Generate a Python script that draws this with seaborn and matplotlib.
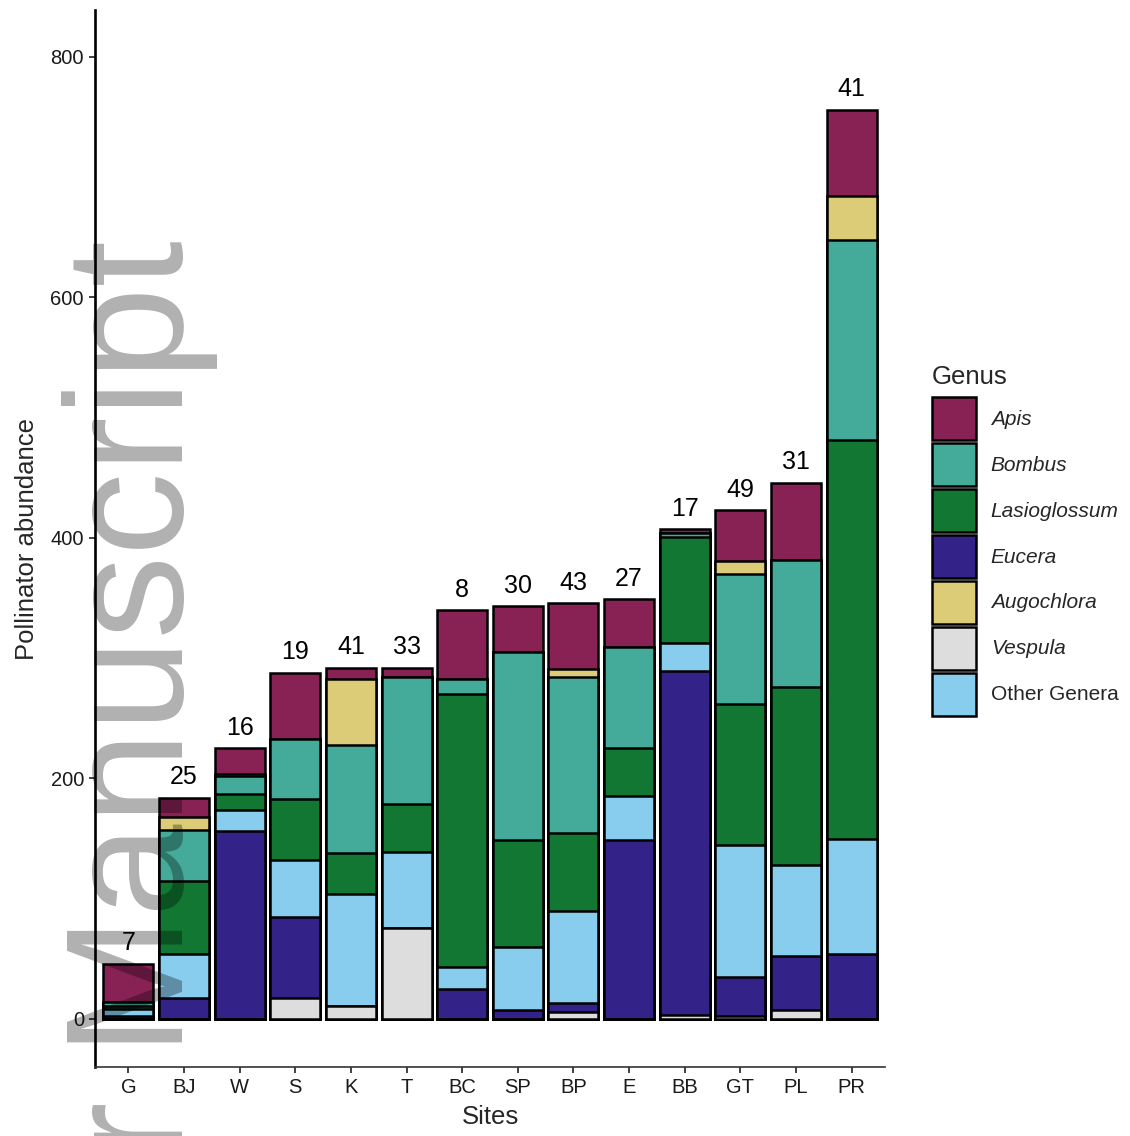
import numpy as np
import pandas as pd
import matplotlib
matplotlib.use("Agg")
import matplotlib.pyplot as plt
from matplotlib.patches import Patch
import seaborn as sns

# Sites, ordered by total abundance
sites = ["G", "BJ", "W", "S", "K", "T", "BC", "SP", "BP", "E", "BB", "GT", "PL", "PR"]

# Abundance per genus at each site
vespula      = [0, 0, 0, 17, 11, 76, 0, 0, 6, 0, 3, 2, 7, 0]
eucera       = [2, 17, 156, 68, 0, 0, 25, 7, 7, 149, 286, 33, 45, 54]
other_genera = [6, 37, 18, 47, 93, 63, 18, 53, 77, 36, 24, 110, 76, 96]
lasioglossum = [3, 61, 13, 51, 34, 40, 227, 89, 65, 40, 88, 117, 148, 331]
bombus       = [3, 42, 15, 50, 90, 105, 13, 156, 129, 84, 3, 108, 106, 167]
augochlora   = [0, 11, 2, 0, 55, 0, 0, 0, 7, 0, 0, 11, 0, 36]
apis         = [32, 16, 21, 55, 9, 8, 57, 38, 55, 40, 3, 42, 64, 72]

# Number of species recorded at each site
richness = [7, 25, 16, 19, 41, 33, 8, 30, 43, 27, 17, 49, 31, 41]

# Stacking order, bottom to top
stack_order = ["Vespula", "Eucera", "Other Genera", "Lasioglossum", "Bombus", "Augochlora", "Apis"]
legend_order = ["Apis", "Bombus", "Lasioglossum", "Eucera", "Augochlora", "Vespula", "Other Genera"]
palette = {
    "Apis": "#882255",
    "Bombus": "#44AA99",
    "Lasioglossum": "#117733",
    "Eucera": "#332288",
    "Augochlora": "#DDCC77",
    "Vespula": "#DDDDDD",
    "Other Genera": "#88CCEE",
}

df = pd.DataFrame({
    "Site": sites,
    "Vespula": vespula,
    "Eucera": eucera,
    "Other Genera": other_genera,
    "Lasioglossum": lasioglossum,
    "Bombus": bombus,
    "Augochlora": augochlora,
    "Apis": apis,
})
cum = df[stack_order].cumsum(axis=1)
cum["Site"] = df["Site"]

sns.set_style("ticks")
plt.rcParams["font.family"] = ["Liberation Sans", "DejaVu Sans"]

W, H = 1130, 1136
fig = plt.figure(figsize=(W / 100, H / 100), dpi=100)
ax = fig.add_axes([95 / W, (H - 1067) / H, (885 - 95) / W, (1067 - 10) / H])

edge_lw = 1.8
# draw cumulative totals from the top layer down so each genus shows as a stacked segment
for genus in reversed(stack_order):
    sns.barplot(data=cum, x="Site", y=genus, order=sites, color=palette[genus],
                saturation=1, width=0.9, edgecolor="black", linewidth=edge_lw,
                errorbar=None, ax=ax)

totals = cum[stack_order[-1]].to_numpy()
for i, (t, r) in enumerate(zip(totals, richness)):
    ax.annotate(str(r), xy=(i, t), xytext=(0, 6), textcoords="offset points",
                ha="center", va="bottom", fontsize=18, color="black")

ax.set_xlim(-0.6, len(sites) - 0.4)
ax.set_ylim(-40, 839)
ax.set_yticks([0, 200, 400, 600, 800])
ax.set_xlabel("Sites", fontsize=18.5, labelpad=6)
ax.set_ylabel("Pollinator abundance", fontsize=18.5, labelpad=8)
ax.tick_params(axis="both", labelsize=14.5, length=4.5, width=1.3, color="#333333",
               labelcolor="#1a1a1a")
sns.despine(ax=ax)
ax.spines["left"].set_linewidth(1.9)
ax.spines["left"].set_color("black")
ax.spines["bottom"].set_linewidth(1.2)
ax.spines["bottom"].set_color("#333333")

# legend: title set as its own text so the gap above the keys can be controlled
fig.text(932 / W, (H - 384) / H, "Genus", ha="left", va="baseline", fontsize=18.5)
handles = [Patch(facecolor=palette[g], edgecolor="black", linewidth=edge_lw) for g in legend_order]
leg = fig.legend(handles, legend_order, loc="upper left",
                 bbox_to_anchor=(932 / W, (H - 397) / H), frameon=False,
                 fontsize=15, handlelength=2.1, handleheight=2.8,
                 labelspacing=0.14, handletextpad=0.72, borderpad=0, borderaxespad=0)
for txt, g in zip(leg.get_texts(), legend_order):
    if g != "Other Genera":
        txt.set_fontstyle("italic")

fig.text(183 / W, (H - 240) / H, "Author Manuscript", rotation=90, rotation_mode="anchor",
         ha="right", va="baseline", fontsize=120, color="black", alpha=0.31, zorder=10)

fig.savefig("out.png", dpi=100)
